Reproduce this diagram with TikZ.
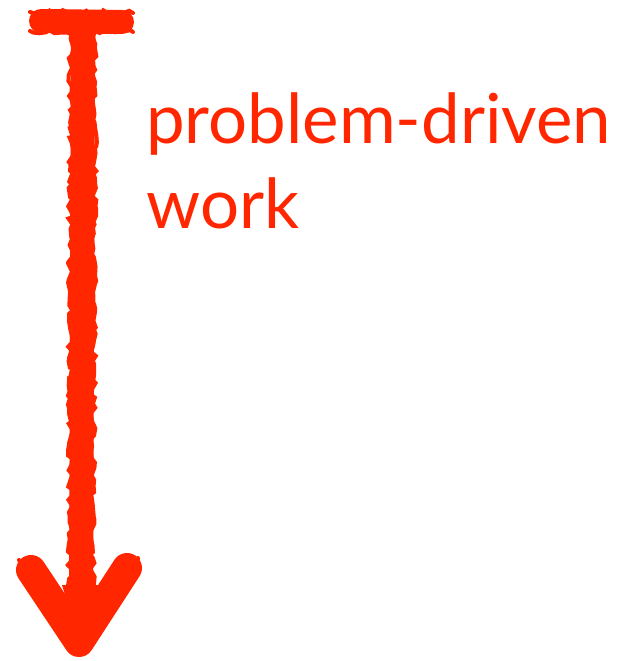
\documentclass[tikz,border=0pt]{standalone}
\usepackage{fontspec}
\setmainfont{Lato}
\usetikzlibrary{decorations.pathmorphing}
\definecolor{pdred}{RGB}{255,38,0}
\tikzset{
  sketch/.style={draw=pdred, line width=24pt, line cap=round, line join=round},
  rough/.style={draw=pdred, line width=4pt, line cap=round, decorate,
    decoration={random steps, segment length=5pt, amplitude=2.5pt}},
  label/.style={text=pdred, font=\fontsize{69}{80}\selectfont, inner sep=0pt, anchor=base west}
}
\begin{document}
\begin{tikzpicture}[x=1pt, y=-1pt]
\useasboundingbox (0,0) rectangle (622,661);
% T-bar
\draw[sketch] (41,21) -- (122,22);
\draw[rough] (30,12) -- (133,13);
\draw[rough] (30,31) -- (133,32);
% shaft
\draw[sketch] (83,24) -- (81,630);
\draw[rough] (71,30) -- (70,620);
\draw[rough] (95,30) -- (92,620);
% head
\draw[sketch, line width=30pt] (31,570) -- (79,642) -- (127,568);
\fill[pdred] (62,585) -- (100,585) -- (79,640) -- cycle;
\draw[rough] (19,560) -- (72,645);
\draw[rough] (138,558) -- (86,645);
% text
\node[label] (t1) at (146,143) {problem-driven};
\node[label] (t2) at (146,228) {work};
\end{tikzpicture}
\end{document}
